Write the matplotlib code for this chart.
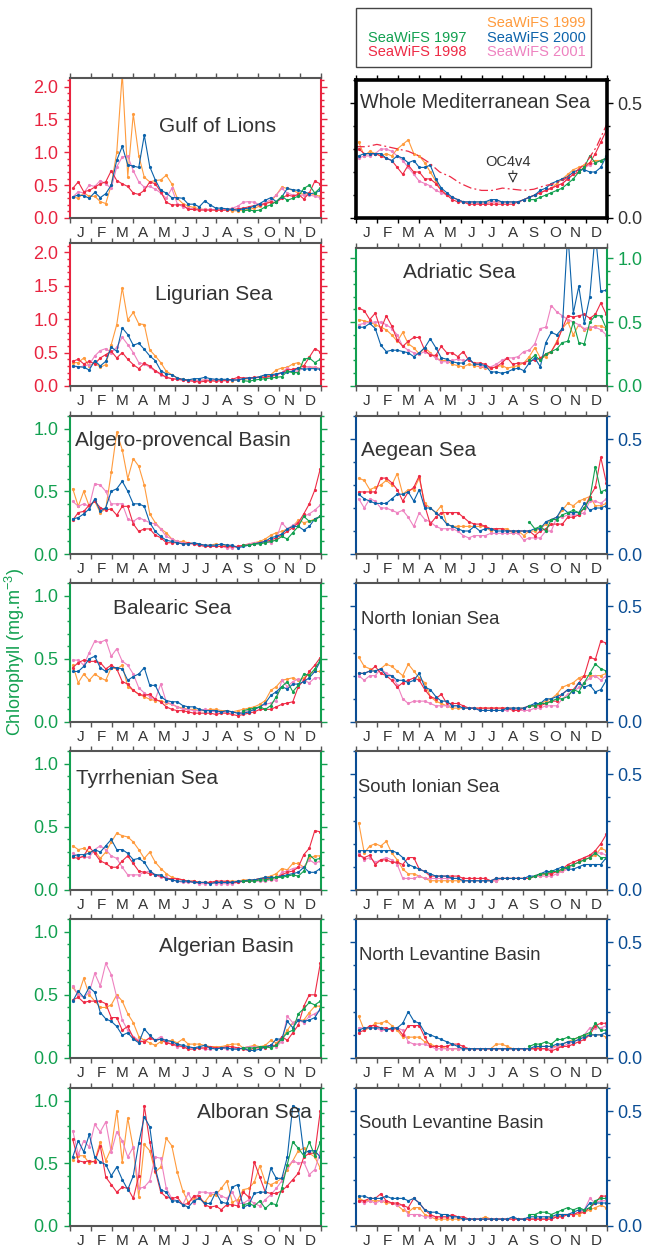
import numpy as np
import matplotlib
matplotlib.use('Agg')
import matplotlib.pyplot as plt
from matplotlib.ticker import MultipleLocator, FormatStrFormatter
from matplotlib.patches import Rectangle

plt.rcParams['font.family'] = ['Liberation Sans', 'DejaVu Sans']

months = ['J', 'F', 'M', 'A', 'M', 'J', 'J', 'A', 'S', 'O', 'N', 'D']
years = ['1997', '1998', '1999', '2000', '2001']

# ---------------- 8-day composites, SeaWiFS (1997 starts in September)

# Gulf of Lions
gol_98 = [0.45, 0.55, 0.40, 0.42, 0.47, 0.52, 0.55, 0.72, 0.57, 0.52,
          0.48, 0.38, 0.36, 0.42, 0.55, 0.52, 0.40, 0.24, 0.20, 0.20,
          0.20, 0.13, 0.13, 0.12, 0.12, 0.12, 0.12, 0.12, 0.12, 0.13,
          0.14, 0.15, 0.17, 0.19, 0.20, 0.22, 0.24, 0.24, 0.30, 0.35,
          0.33, 0.36, 0.29, 0.38, 0.56, 0.52]
gol_99 = [0.32, 0.30, 0.38, 0.33, 0.33, 0.25, 0.22, 0.50, 1.00, 2.20,
          0.63, 1.58, 0.95, 0.62, 0.55, 0.57, 0.58, 0.65, 0.52, 0.30,
          0.22, 0.18, 0.16, 0.14, 0.13, 0.13, 0.12, 0.12, 0.12, 0.11,
          0.11, 0.12, 0.13, 0.15, 0.18, 0.22, 0.25, 0.35, 0.47, 0.45,
          0.42, 0.38, 0.36, 0.38, 0.35, 0.33]
gol_00 = [0.32, 0.35, 0.34, 0.30, 0.39, 0.31, 0.37, 0.50, 0.88, 1.09,
          0.81, 0.79, 0.77, 1.26, 0.78, 0.58, 0.42, 0.38, 0.31, 0.31,
          0.30, 0.21, 0.21, 0.17, 0.26, 0.20, 0.15, 0.15, 0.14, 0.13,
          0.12, 0.14, 0.15, 0.18, 0.22, 0.27, 0.31, 0.25, 0.32, 0.45,
          0.43, 0.42, 0.40, 0.37, 0.38, 0.42]
gol_01 = [0.32, 0.40, 0.38, 0.50, 0.48, 0.57, 0.52, 0.45, 0.78, 0.93,
          0.94, 0.72, 0.55, 0.47, 0.48, 0.44, 0.38, 0.30, 0.45, 0.22,
          0.17, 0.15, 0.14, 0.13, 0.13, 0.13, 0.13, 0.12, 0.13, 0.15,
          0.18, 0.24, 0.25, 0.24, 0.20, 0.23, 0.28, 0.35, 0.45, 0.38,
          0.35, 0.34, 0.35, 0.35, 0.33, 0.31]
gol_97 = [0.11, 0.12, 0.11, 0.12, 0.17, 0.20, 0.25, 0.33, 0.27, 0.30,
          0.33, 0.45, 0.50, 0.38, 0.46]

# Ligurian Sea
lig_98 = [0.37, 0.40, 0.33, 0.37, 0.33, 0.42, 0.47, 0.52, 0.42, 0.50,
          0.40, 0.32, 0.26, 0.34, 0.30, 0.23, 0.18, 0.13, 0.11, 0.10,
          0.09, 0.08, 0.07, 0.06, 0.07, 0.08, 0.07, 0.08, 0.08, 0.10,
          0.13, 0.12, 0.12, 0.13, 0.13, 0.13, 0.15, 0.17, 0.20, 0.24,
          0.25, 0.27, 0.30, 0.43, 0.56, 0.51]
lig_99 = [0.35, 0.35, 0.42, 0.30, 0.35, 0.28, 0.32, 0.62, 0.92, 1.47,
          0.99, 1.10, 0.93, 0.92, 0.54, 0.45, 0.35, 0.22, 0.17, 0.12,
          0.10, 0.09, 0.09, 0.08, 0.09, 0.08, 0.09, 0.09, 0.09, 0.08,
          0.09, 0.10, 0.11, 0.12, 0.14, 0.15, 0.17, 0.24, 0.27, 0.28,
          0.33, 0.35, 0.30, 0.28, 0.28, 0.26]
lig_00 = [0.30, 0.29, 0.28, 0.24, 0.38, 0.30, 0.37, 0.58, 0.52, 0.87,
          0.77, 0.61, 0.64, 0.55, 0.45, 0.38, 0.23, 0.18, 0.17, 0.12,
          0.10, 0.09, 0.11, 0.11, 0.13, 0.11, 0.10, 0.10, 0.10, 0.09,
          0.09, 0.11, 0.12, 0.12, 0.14, 0.17, 0.17, 0.18, 0.20, 0.21,
          0.22, 0.27, 0.25, 0.26, 0.26, 0.25]
lig_01 = [0.30, 0.28, 0.30, 0.32, 0.45, 0.53, 0.56, 0.50, 0.58, 0.73,
          0.62, 0.50, 0.35, 0.33, 0.28, 0.22, 0.17, 0.13, 0.11, 0.10,
          0.09, 0.08, 0.08, 0.08, 0.09, 0.09, 0.09, 0.08, 0.08, 0.09,
          0.10, 0.11, 0.12, 0.12, 0.13, 0.13, 0.14, 0.16, 0.20, 0.27,
          0.23, 0.22, 0.28, 0.29, 0.28, 0.26]
lig_97 = [0.08, 0.07, 0.09, 0.10, 0.11, 0.12, 0.13, 0.14, 0.22, 0.20,
          0.20, 0.40, 0.42, 0.35, 0.40]

# Algero-provencal Basin
alp_98 = [0.27, 0.33, 0.34, 0.39, 0.42, 0.37, 0.35, 0.36, 0.31, 0.38,
          0.38, 0.24, 0.18, 0.20, 0.20, 0.15, 0.13, 0.09, 0.09, 0.09,
          0.08, 0.09, 0.08, 0.07, 0.06, 0.06, 0.06, 0.06, 0.06, 0.06,
          0.06, 0.07, 0.07, 0.08, 0.09, 0.10, 0.11, 0.13, 0.15, 0.18,
          0.21, 0.25, 0.32, 0.40, 0.51, 0.68]
alp_99 = [0.52, 0.38, 0.50, 0.38, 0.42, 0.33, 0.36, 0.65, 0.97, 0.83,
          0.60, 0.76, 0.70, 0.55, 0.32, 0.25, 0.20, 0.17, 0.12, 0.10,
          0.10, 0.09, 0.08, 0.08, 0.07, 0.07, 0.08, 0.07, 0.07, 0.06,
          0.06, 0.07, 0.08, 0.09, 0.10, 0.12, 0.15, 0.17, 0.18, 0.20,
          0.22, 0.27, 0.25, 0.26, 0.28, 0.30]
alp_00 = [0.28, 0.29, 0.32, 0.36, 0.44, 0.34, 0.37, 0.50, 0.52, 0.58,
          0.50, 0.40, 0.40, 0.38, 0.25, 0.18, 0.14, 0.11, 0.10, 0.09,
          0.08, 0.08, 0.09, 0.08, 0.07, 0.07, 0.07, 0.08, 0.07, 0.07,
          0.05, 0.06, 0.07, 0.08, 0.09, 0.10, 0.13, 0.14, 0.16, 0.20,
          0.22, 0.22, 0.19, 0.22, 0.28, 0.30]
alp_01 = [0.42, 0.38, 0.40, 0.38, 0.56, 0.55, 0.50, 0.40, 0.40, 0.40,
          0.28, 0.26, 0.29, 0.27, 0.25, 0.24, 0.20, 0.14, 0.12, 0.10,
          0.09, 0.08, 0.08, 0.07, 0.07, 0.06, 0.06, 0.06, 0.05, 0.05,
          0.06, 0.07, 0.08, 0.09, 0.09, 0.10, 0.09, 0.12, 0.25, 0.20,
          0.23, 0.25, 0.30, 0.32, 0.35, 0.39]
alp_97 = [0.07, 0.07, 0.08, 0.08, 0.09, 0.10, 0.11, 0.14, 0.12, 0.17,
          0.22, 0.30, 0.26, 0.27, 0.30]

# Balearic Sea
bal_98 = [0.43, 0.47, 0.49, 0.48, 0.48, 0.47, 0.42, 0.45, 0.42, 0.32,
          0.30, 0.25, 0.22, 0.21, 0.22, 0.18, 0.16, 0.12, 0.10, 0.09,
          0.09, 0.08, 0.07, 0.07, 0.07, 0.07, 0.06, 0.07, 0.07, 0.06,
          0.05, 0.06, 0.07, 0.08, 0.10, 0.10, 0.10, 0.12, 0.14, 0.15,
          0.16, 0.28, 0.33, 0.40, 0.45, 0.51]
bal_99 = [0.45, 0.31, 0.38, 0.33, 0.38, 0.35, 0.33, 0.43, 0.42, 0.45,
          0.28, 0.25, 0.22, 0.20, 0.18, 0.17, 0.17, 0.15, 0.14, 0.12,
          0.11, 0.10, 0.10, 0.09, 0.09, 0.10, 0.10, 0.09, 0.09, 0.08,
          0.09, 0.10, 0.11, 0.12, 0.14, 0.17, 0.25, 0.28, 0.33, 0.34,
          0.35, 0.33, 0.35, 0.38, 0.40, 0.40]
bal_00 = [0.40, 0.40, 0.44, 0.50, 0.52, 0.43, 0.40, 0.43, 0.43, 0.42,
          0.33, 0.36, 0.38, 0.43, 0.29, 0.29, 0.20, 0.17, 0.16, 0.16,
          0.13, 0.12, 0.12, 0.10, 0.09, 0.09, 0.09, 0.08, 0.09, 0.08,
          0.07, 0.07, 0.08, 0.10, 0.12, 0.15, 0.21, 0.24, 0.28, 0.26,
          0.30, 0.30, 0.32, 0.35, 0.40, 0.48]
bal_01 = [0.49, 0.49, 0.45, 0.55, 0.64, 0.63, 0.65, 0.52, 0.58, 0.48,
          0.45, 0.38, 0.27, 0.23, 0.20, 0.18, 0.30, 0.16, 0.14, 0.12,
          0.10, 0.10, 0.09, 0.09, 0.10, 0.09, 0.08, 0.08, 0.08, 0.08,
          0.07, 0.08, 0.09, 0.10, 0.12, 0.14, 0.15, 0.17, 0.33, 0.28,
          0.32, 0.34, 0.33, 0.31, 0.35, 0.35]
bal_97 = [0.09, 0.10, 0.11, 0.12, 0.10, 0.13, 0.20, 0.28, 0.32, 0.24,
          0.29, 0.38, 0.37, 0.42, 0.49]

# Tyrrhenian Sea
tyr_98 = [0.26, 0.25, 0.27, 0.34, 0.29, 0.23, 0.21, 0.18, 0.18, 0.23,
          0.27, 0.21, 0.15, 0.14, 0.13, 0.12, 0.11, 0.09, 0.09, 0.09,
          0.08, 0.07, 0.07, 0.06, 0.06, 0.06, 0.07, 0.07, 0.07, 0.06,
          0.06, 0.07, 0.07, 0.08, 0.09, 0.09, 0.09, 0.10, 0.12, 0.14,
          0.15, 0.18, 0.28, 0.33, 0.47, 0.46]
tyr_99 = [0.35, 0.32, 0.33, 0.30, 0.31, 0.25, 0.30, 0.38, 0.45, 0.43,
          0.42, 0.38, 0.32, 0.25, 0.30, 0.22, 0.17, 0.13, 0.10, 0.09,
          0.08, 0.07, 0.07, 0.06, 0.06, 0.06, 0.06, 0.06, 0.07, 0.07,
          0.07, 0.08, 0.08, 0.08, 0.09, 0.10, 0.11, 0.13, 0.17, 0.16,
          0.21, 0.21, 0.18, 0.25, 0.27, 0.27]
tyr_00 = [0.27, 0.28, 0.28, 0.29, 0.32, 0.30, 0.35, 0.40, 0.32, 0.32,
          0.29, 0.24, 0.25, 0.22, 0.15, 0.12, 0.12, 0.09, 0.08, 0.07,
          0.07, 0.07, 0.06, 0.06, 0.06, 0.05, 0.06, 0.06, 0.06, 0.06,
          0.07, 0.07, 0.08, 0.08, 0.09, 0.10, 0.10, 0.10, 0.11, 0.12,
          0.13, 0.14, 0.18, 0.14, 0.14, 0.17]
tyr_01 = [0.29, 0.26, 0.26, 0.26, 0.32, 0.35, 0.32, 0.27, 0.25, 0.18,
          0.12, 0.12, 0.12, 0.14, 0.15, 0.12, 0.10, 0.10, 0.08, 0.07,
          0.06, 0.06, 0.06, 0.05, 0.05, 0.06, 0.05, 0.05, 0.05, 0.05,
          0.06, 0.07, 0.07, 0.07, 0.07, 0.07, 0.08, 0.08, 0.14, 0.15,
          0.17, 0.18, 0.18, 0.24, 0.21, 0.23]
tyr_97 = [0.07, 0.07, 0.07, 0.08, 0.08, 0.09, 0.10, 0.10, 0.11, 0.12,
          0.11, 0.15, 0.28, 0.24, 0.25]

# Algerian Basin
alg_98 = [0.46, 0.48, 0.44, 0.45, 0.45, 0.45, 0.43, 0.32, 0.32, 0.22,
          0.25, 0.16, 0.13, 0.13, 0.16, 0.14, 0.15, 0.12, 0.11, 0.10,
          0.09, 0.07, 0.07, 0.08, 0.08, 0.09, 0.08, 0.08, 0.09, 0.09,
          0.08, 0.07, 0.06, 0.08, 0.08, 0.08, 0.10, 0.10, 0.17, 0.14,
          0.20, 0.26, 0.41, 0.50, 0.50, 0.75]
alg_99 = [0.56, 0.50, 0.63, 0.50, 0.45, 0.40, 0.40, 0.42, 0.50, 0.45,
          0.35, 0.28, 0.17, 0.14, 0.12, 0.10, 0.13, 0.13, 0.14, 0.12,
          0.15, 0.11, 0.11, 0.11, 0.10, 0.09, 0.09, 0.09, 0.10, 0.11,
          0.11, 0.08, 0.09, 0.10, 0.09, 0.10, 0.14, 0.12, 0.15, 0.22,
          0.28, 0.30, 0.30, 0.36, 0.41, 0.41]
alg_00 = [0.45, 0.53, 0.48, 0.56, 0.52, 0.36, 0.31, 0.29, 0.25, 0.18,
          0.20, 0.15, 0.12, 0.23, 0.18, 0.14, 0.15, 0.14, 0.13, 0.11,
          0.10, 0.09, 0.08, 0.09, 0.10, 0.08, 0.07, 0.08, 0.08, 0.07,
          0.07, 0.08, 0.06, 0.06, 0.07, 0.09, 0.10, 0.15, 0.15, 0.29,
          0.24, 0.30, 0.29, 0.30, 0.32, 0.39]
alg_01 = [0.57, 0.50, 0.48, 0.52, 0.67, 0.57, 0.75, 0.66, 0.48, 0.30,
          0.22, 0.17, 0.14, 0.13, 0.16, 0.14, 0.17, 0.13, 0.11, 0.09,
          0.09, 0.08, 0.08, 0.08, 0.07, 0.07, 0.08, 0.08, 0.07, 0.08,
          0.07, 0.08, 0.09, 0.09, 0.08, 0.09, 0.10, 0.09, 0.13, 0.33,
          0.28, 0.30, 0.28, 0.33, 0.35, 0.38]
alg_97 = [0.08, 0.08, 0.08, 0.09, 0.09, 0.08, 0.10, 0.15, 0.20, 0.22,
          0.35, 0.39, 0.44, 0.42, 0.45]

# Alboran Sea
alb_98 = [0.69, 0.52, 0.51, 0.52, 0.51, 0.64, 0.39, 0.33, 0.27, 0.31,
          0.30, 0.22, 0.40, 0.96, 0.67, 0.44, 0.27, 0.23, 0.22, 0.23,
          0.17, 0.18, 0.24, 0.24, 0.17, 0.15, 0.16, 0.13, 0.17, 0.17,
          0.16, 0.27, 0.23, 0.51, 0.39, 0.27, 0.26, 0.26, 0.28, 0.32,
          0.37, 0.42, 0.55, 0.58, 0.58, 0.92]
alb_99 = [0.53, 0.56, 0.56, 0.50, 0.52, 0.67, 0.52, 0.62, 0.92, 0.51,
          0.86, 0.62, 0.23, 0.65, 0.60, 0.43, 0.47, 0.70, 0.64, 0.43,
          0.28, 0.19, 0.22, 0.22, 0.19, 0.25, 0.25, 0.30, 0.36, 0.19,
          0.21, 0.29, 0.30, 0.35, 0.48, 0.35, 0.33, 0.35, 0.38, 0.45,
          0.52, 0.60, 0.62, 0.58, 0.55, 0.46]
alb_00 = [0.55, 0.68, 0.59, 0.73, 0.55, 0.51, 0.49, 0.40, 0.47, 0.37,
          0.29, 0.40, 0.66, 0.87, 0.79, 0.46, 0.29, 0.27, 0.20, 0.20,
          0.17, 0.15, 0.20, 0.22, 0.18, 0.18, 0.27, 0.19, 0.18, 0.31,
          0.33, 0.15, 0.17, 0.26, 0.27, 0.27, 0.46, 0.38, 0.38, 0.55,
          0.96, 0.93, 0.58, 0.60, 0.60, 0.55]
alb_01 = [0.76, 0.57, 0.68, 0.63, 0.81, 0.75, 0.83, 0.59, 0.75, 0.68,
          0.55, 0.63, 0.30, 0.31, 0.36, 0.55, 0.54, 0.30, 0.22, 0.20,
          0.17, 0.26, 0.18, 0.27, 0.27, 0.26, 0.27, 0.24, 0.22, 0.27,
          0.18, 0.18, 0.21, 0.18, 0.16, 0.21, 0.25, 0.30, 0.36, 0.47,
          0.52, 0.50, 0.51, 0.41, 0.45, 0.59]
alb_97 = [0.17, 0.18, 0.16, 0.20, 0.14, 0.18, 0.17, 0.30, 0.49, 0.67,
          0.62, 0.56, 0.67, 0.56, 0.67]

# Whole Mediterranean Sea
med_98 = [0.30, 0.28, 0.28, 0.28, 0.27, 0.26, 0.25, 0.22, 0.19, 0.23,
          0.20, 0.20, 0.17, 0.17, 0.15, 0.12, 0.10, 0.08, 0.07, 0.07,
          0.06, 0.06, 0.06, 0.06, 0.06, 0.06, 0.06, 0.06, 0.06, 0.07,
          0.08, 0.09, 0.10, 0.11, 0.12, 0.13, 0.14, 0.15, 0.17, 0.19,
          0.20, 0.22, 0.24, 0.28, 0.33, 0.38]
med_99 = [0.33, 0.27, 0.29, 0.28, 0.27, 0.28, 0.27, 0.30, 0.32, 0.34,
          0.28, 0.27, 0.24, 0.20, 0.16, 0.12, 0.10, 0.09, 0.08, 0.07,
          0.07, 0.07, 0.07, 0.07, 0.07, 0.07, 0.07, 0.07, 0.07, 0.07,
          0.08, 0.09, 0.10, 0.11, 0.12, 0.13, 0.15, 0.17, 0.19, 0.21,
          0.22, 0.23, 0.24, 0.25, 0.25, 0.26]
med_00 = [0.27, 0.28, 0.28, 0.28, 0.28, 0.26, 0.25, 0.27, 0.26, 0.24,
          0.25, 0.22, 0.22, 0.23, 0.17, 0.13, 0.11, 0.09, 0.08, 0.07,
          0.07, 0.07, 0.07, 0.07, 0.08, 0.08, 0.07, 0.07, 0.07, 0.07,
          0.08, 0.09, 0.10, 0.12, 0.13, 0.15, 0.16, 0.17, 0.18, 0.20,
          0.21, 0.21, 0.20, 0.20, 0.22, 0.27]
med_01 = [0.26, 0.27, 0.27, 0.28, 0.30, 0.30, 0.29, 0.27, 0.25, 0.22,
          0.19, 0.16, 0.15, 0.14, 0.12, 0.11, 0.10, 0.09, 0.08, 0.07,
          0.07, 0.07, 0.06, 0.06, 0.07, 0.07, 0.07, 0.07, 0.07, 0.07,
          0.08, 0.09, 0.10, 0.11, 0.12, 0.13, 0.14, 0.15, 0.17, 0.19,
          0.20, 0.22, 0.23, 0.24, 0.25, 0.26]
med_97 = [0.08, 0.08, 0.09, 0.10, 0.11, 0.12, 0.13, 0.15, 0.17, 0.20,
          0.22, 0.27, 0.24, 0.25, 0.26]
# OC4v4 climatology, half-month steps
med_oc4 = [0.31, 0.31, 0.32, 0.31, 0.30, 0.29, 0.27, 0.24, 0.20, 0.18,
           0.15, 0.13, 0.12, 0.12, 0.13, 0.125, 0.12, 0.125, 0.14, 0.15,
           0.17, 0.20, 0.24, 0.31, 0.41]

# Adriatic Sea
adr_98 = [0.61, 0.59, 0.52, 0.57, 0.44, 0.55, 0.47, 0.36, 0.31, 0.35,
          0.38, 0.38, 0.28, 0.24, 0.24, 0.31, 0.26, 0.26, 0.23, 0.27,
          0.20, 0.18, 0.18, 0.17, 0.14, 0.15, 0.18, 0.22, 0.17, 0.18,
          0.18, 0.20, 0.20, 0.22, 0.25, 0.27, 0.34, 0.45, 0.55, 0.54,
          0.55, 0.56, 0.53, 0.56, 0.65, 0.56]
adr_99 = [0.52, 0.51, 0.50, 0.48, 0.46, 0.44, 0.40, 0.35, 0.42, 0.33,
          0.30, 0.25, 0.30, 0.26, 0.22, 0.20, 0.20, 0.17, 0.16, 0.15,
          0.17, 0.16, 0.15, 0.14, 0.14, 0.15, 0.16, 0.14, 0.15, 0.16,
          0.18, 0.23, 0.30, 0.22, 0.23, 0.27, 0.35, 0.45, 0.50, 0.40,
          0.48, 0.44, 0.45, 0.47, 0.47, 0.45]
adr_00 = [0.46, 0.46, 0.49, 0.45, 0.32, 0.27, 0.28, 0.28, 0.27, 0.26,
          0.23, 0.26, 0.30, 0.37, 0.30, 0.22, 0.21, 0.19, 0.18, 0.18,
          0.22, 0.17, 0.17, 0.16, 0.11, 0.11, 0.10, 0.11, 0.13, 0.14,
          0.12, 0.18, 0.22, 0.15, 0.34, 0.42, 0.40, 0.45, 1.20, 0.57,
          0.78, 0.49, 0.70, 1.20, 0.74, 0.75]
adr_01 = [0.48, 0.49, 0.50, 0.50, 0.50, 0.48, 0.45, 0.40, 0.31, 0.28,
          0.26, 0.25, 0.27, 0.25, 0.22, 0.19, 0.19, 0.20, 0.21, 0.20,
          0.20, 0.18, 0.16, 0.15, 0.15, 0.17, 0.20, 0.22, 0.22, 0.23,
          0.27, 0.28, 0.33, 0.45, 0.46, 0.63, 0.58, 0.55, 0.52, 0.50,
          0.48, 0.45, 0.46, 0.46, 0.44, 0.40]
adr_97 = [0.20, 0.24, 0.20, 0.25, 0.27, 0.29, 0.34, 0.35, 0.50, 0.34,
          0.33, 0.50, 0.55, 0.55, 0.45]

# Aegean Sea
aeg_98 = [0.27, 0.27, 0.27, 0.27, 0.33, 0.33, 0.31, 0.28, 0.23, 0.27,
          0.29, 0.34, 0.21, 0.13, 0.16, 0.18, 0.18, 0.18, 0.18, 0.16,
          0.14, 0.13, 0.13, 0.12, 0.11, 0.11, 0.11, 0.10, 0.10, 0.10,
          0.10, 0.10, 0.08, 0.10, 0.11, 0.13, 0.13, 0.13, 0.16, 0.16,
          0.17, 0.20, 0.25, 0.29, 0.42, 0.31]
aeg_99 = [0.33, 0.32, 0.28, 0.29, 0.30, 0.32, 0.30, 0.35, 0.26, 0.28,
          0.28, 0.33, 0.22, 0.20, 0.18, 0.21, 0.13, 0.12, 0.12, 0.12,
          0.12, 0.12, 0.12, 0.12, 0.10, 0.11, 0.11, 0.11, 0.09, 0.10,
          0.08, 0.10, 0.10, 0.11, 0.13, 0.15, 0.16, 0.19, 0.22, 0.21,
          0.23, 0.24, 0.25, 0.21, 0.21, 0.22]
aeg_00 = [0.26, 0.24, 0.23, 0.22, 0.22, 0.22, 0.24, 0.26, 0.26, 0.27,
          0.23, 0.28, 0.20, 0.20, 0.18, 0.16, 0.13, 0.12, 0.11, 0.10,
          0.10, 0.12, 0.10, 0.11, 0.11, 0.10, 0.10, 0.10, 0.10, 0.10,
          0.10, 0.10, 0.11, 0.11, 0.14, 0.15, 0.16, 0.20, 0.18, 0.18,
          0.18, 0.22, 0.19, 0.20, 0.20, 0.21]
aeg_01 = [0.24, 0.20, 0.24, 0.23, 0.20, 0.20, 0.19, 0.18, 0.19, 0.16,
          0.12, 0.18, 0.15, 0.14, 0.12, 0.11, 0.11, 0.11, 0.10, 0.08,
          0.07, 0.08, 0.08, 0.08, 0.09, 0.09, 0.09, 0.09, 0.09, 0.09,
          0.06, 0.07, 0.07, 0.07, 0.10, 0.10, 0.16, 0.16, 0.17, 0.17,
          0.17, 0.18, 0.23, 0.23, 0.22, 0.24]
aeg_97 = [0.14, 0.11, 0.12, 0.10, 0.15, 0.15, 0.17, 0.18, 0.19, 0.18,
          0.20, 0.24, 0.38, 0.27, 0.28]

# North Ionian Sea
nio_98 = [0.21, 0.21, 0.22, 0.24, 0.21, 0.20, 0.18, 0.15, 0.17, 0.18,
          0.19, 0.18, 0.14, 0.11, 0.10, 0.12, 0.08, 0.08, 0.08, 0.07,
          0.06, 0.06, 0.06, 0.06, 0.06, 0.06, 0.06, 0.06, 0.05, 0.05,
          0.06, 0.07, 0.07, 0.07, 0.08, 0.09, 0.09, 0.12, 0.14, 0.14,
          0.17, 0.20, 0.28, 0.27, 0.35, 0.34]
nio_99 = [0.28, 0.24, 0.23, 0.22, 0.23, 0.25, 0.24, 0.22, 0.20, 0.25,
          0.22, 0.19, 0.17, 0.11, 0.09, 0.08, 0.07, 0.06, 0.06, 0.06,
          0.06, 0.06, 0.06, 0.06, 0.06, 0.06, 0.06, 0.06, 0.06, 0.06,
          0.06, 0.07, 0.07, 0.08, 0.09, 0.10, 0.12, 0.15, 0.16, 0.17,
          0.19, 0.20, 0.20, 0.20, 0.20, 0.21]
nio_00 = [0.21, 0.21, 0.22, 0.22, 0.23, 0.20, 0.20, 0.18, 0.18, 0.17,
          0.18, 0.21, 0.15, 0.14, 0.11, 0.09, 0.09, 0.07, 0.07, 0.06,
          0.06, 0.06, 0.05, 0.05, 0.05, 0.05, 0.05, 0.06, 0.06, 0.06,
          0.06, 0.07, 0.08, 0.08, 0.10, 0.10, 0.11, 0.12, 0.14, 0.13,
          0.17, 0.15, 0.16, 0.13, 0.14, 0.18]
nio_01 = [0.20, 0.18, 0.20, 0.20, 0.23, 0.21, 0.20, 0.16, 0.10, 0.08,
          0.09, 0.09, 0.09, 0.08, 0.07, 0.07, 0.07, 0.07, 0.07, 0.06,
          0.06, 0.06, 0.05, 0.05, 0.05, 0.05, 0.05, 0.05, 0.06, 0.05,
          0.05, 0.05, 0.06, 0.06, 0.07, 0.07, 0.07, 0.10, 0.12, 0.13,
          0.15, 0.17, 0.19, 0.20, 0.18, 0.20]
nio_97 = [0.07, 0.07, 0.08, 0.08, 0.09, 0.10, 0.10, 0.11, 0.14, 0.13,
          0.17, 0.21, 0.25, 0.23, 0.22]

# South Ionian Sea
sio_98 = [0.15, 0.14, 0.15, 0.11, 0.13, 0.13, 0.12, 0.12, 0.11, 0.14,
          0.14, 0.09, 0.08, 0.06, 0.06, 0.06, 0.06, 0.06, 0.06, 0.05,
          0.05, 0.05, 0.05, 0.05, 0.04, 0.05, 0.05, 0.05, 0.05, 0.05,
          0.05, 0.05, 0.06, 0.07, 0.07, 0.07, 0.08, 0.09, 0.11, 0.12,
          0.13, 0.14, 0.15, 0.17, 0.20, 0.24]
sio_99 = [0.29, 0.16, 0.19, 0.20, 0.19, 0.21, 0.16, 0.13, 0.09, 0.07,
          0.07, 0.06, 0.05, 0.04, 0.04, 0.04, 0.04, 0.04, 0.04, 0.04,
          0.04, 0.04, 0.04, 0.04, 0.04, 0.04, 0.05, 0.05, 0.05, 0.05,
          0.05, 0.05, 0.06, 0.06, 0.07, 0.07, 0.08, 0.08, 0.10, 0.11,
          0.12, 0.13, 0.14, 0.15, 0.18, 0.17]
sio_00 = [0.17, 0.17, 0.17, 0.17, 0.17, 0.17, 0.17, 0.16, 0.14, 0.11,
          0.10, 0.09, 0.08, 0.07, 0.06, 0.06, 0.06, 0.05, 0.05, 0.04,
          0.04, 0.04, 0.04, 0.04, 0.04, 0.05, 0.05, 0.05, 0.05, 0.05,
          0.05, 0.06, 0.06, 0.07, 0.08, 0.08, 0.09, 0.10, 0.09, 0.09,
          0.10, 0.11, 0.11, 0.11, 0.11, 0.14]
sio_01 = [0.16, 0.13, 0.14, 0.12, 0.13, 0.14, 0.13, 0.11, 0.05, 0.05,
          0.05, 0.06, 0.05, 0.05, 0.05, 0.05, 0.05, 0.05, 0.05, 0.04,
          0.04, 0.04, 0.04, 0.04, 0.04, 0.04, 0.05, 0.05, 0.05, 0.05,
          0.05, 0.05, 0.06, 0.06, 0.06, 0.06, 0.07, 0.08, 0.09, 0.11,
          0.12, 0.14, 0.15, 0.16, 0.16, 0.15]
sio_97 = [0.05, 0.06, 0.07, 0.07, 0.08, 0.08, 0.09, 0.10, 0.11, 0.12,
          0.13, 0.14, 0.16, 0.14, 0.14]

# North Levantine Basin
nlv_98 = [0.11, 0.12, 0.14, 0.14, 0.13, 0.13, 0.12, 0.13, 0.10, 0.14,
          0.14, 0.14, 0.09, 0.05, 0.05, 0.05, 0.05, 0.06, 0.06, 0.05,
          0.04, 0.04, 0.04, 0.04, 0.04, 0.04, 0.04, 0.04, 0.04, 0.04,
          0.04, 0.04, 0.04, 0.04, 0.04, 0.03, 0.04, 0.05, 0.05, 0.06,
          0.07, 0.08, 0.10, 0.14, 0.15, 0.15]
nlv_99 = [0.18, 0.12, 0.13, 0.15, 0.15, 0.16, 0.14, 0.12, 0.09, 0.09,
          0.09, 0.09, 0.07, 0.06, 0.05, 0.05, 0.04, 0.04, 0.04, 0.04,
          0.04, 0.04, 0.04, 0.04, 0.04, 0.06, 0.06, 0.05, 0.04, 0.04,
          0.04, 0.04, 0.04, 0.05, 0.05, 0.05, 0.05, 0.06, 0.07, 0.08,
          0.09, 0.10, 0.10, 0.10, 0.10, 0.09]
nlv_00 = [0.12, 0.13, 0.13, 0.13, 0.13, 0.12, 0.13, 0.13, 0.15, 0.20,
          0.16, 0.15, 0.11, 0.10, 0.09, 0.08, 0.07, 0.06, 0.05, 0.04,
          0.04, 0.04, 0.04, 0.04, 0.04, 0.04, 0.04, 0.04, 0.04, 0.04,
          0.04, 0.04, 0.05, 0.05, 0.05, 0.05, 0.06, 0.06, 0.07, 0.07,
          0.08, 0.09, 0.10, 0.10, 0.10, 0.11]
nlv_01 = [0.13, 0.13, 0.13, 0.13, 0.12, 0.12, 0.13, 0.13, 0.12, 0.07,
          0.06, 0.06, 0.06, 0.05, 0.04, 0.04, 0.04, 0.04, 0.04, 0.04,
          0.04, 0.04, 0.04, 0.04, 0.04, 0.04, 0.04, 0.04, 0.04, 0.04,
          0.04, 0.04, 0.04, 0.04, 0.04, 0.04, 0.05, 0.05, 0.06, 0.07,
          0.08, 0.10, 0.13, 0.13, 0.13, 0.14]
nlv_97 = [0.05, 0.06, 0.06, 0.07, 0.06, 0.08, 0.08, 0.09, 0.08, 0.09,
          0.10, 0.11, 0.15, 0.12, 0.12]

# South Levantine Basin
slv_98 = [0.11, 0.11, 0.12, 0.12, 0.14, 0.11, 0.10, 0.10, 0.09, 0.08,
          0.12, 0.10, 0.07, 0.05, 0.04, 0.04, 0.04, 0.05, 0.04, 0.04,
          0.03, 0.03, 0.03, 0.03, 0.03, 0.03, 0.03, 0.03, 0.03, 0.03,
          0.03, 0.03, 0.03, 0.03, 0.03, 0.03, 0.04, 0.04, 0.05, 0.05,
          0.06, 0.06, 0.08, 0.10, 0.13, 0.13]
slv_99 = [0.12, 0.11, 0.11, 0.11, 0.11, 0.10, 0.10, 0.09, 0.07, 0.06,
          0.08, 0.08, 0.05, 0.04, 0.03, 0.03, 0.03, 0.03, 0.03, 0.03,
          0.03, 0.03, 0.03, 0.04, 0.03, 0.03, 0.03, 0.03, 0.03, 0.03,
          0.03, 0.03, 0.03, 0.03, 0.03, 0.04, 0.04, 0.05, 0.05, 0.05,
          0.05, 0.06, 0.07, 0.08, 0.09, 0.08]
slv_00 = [0.13, 0.13, 0.12, 0.12, 0.12, 0.13, 0.12, 0.12, 0.12, 0.11,
          0.12, 0.10, 0.07, 0.06, 0.06, 0.05, 0.05, 0.04, 0.04, 0.03,
          0.03, 0.03, 0.03, 0.03, 0.03, 0.03, 0.03, 0.03, 0.04, 0.03,
          0.03, 0.04, 0.04, 0.04, 0.04, 0.04, 0.05, 0.05, 0.05, 0.06,
          0.07, 0.07, 0.10, 0.10, 0.10, 0.10]
slv_01 = [0.11, 0.10, 0.11, 0.10, 0.11, 0.11, 0.10, 0.09, 0.09, 0.05,
          0.05, 0.05, 0.04, 0.04, 0.04, 0.04, 0.04, 0.04, 0.04, 0.03,
          0.03, 0.03, 0.03, 0.03, 0.03, 0.03, 0.03, 0.03, 0.03, 0.03,
          0.03, 0.03, 0.03, 0.03, 0.03, 0.03, 0.04, 0.04, 0.05, 0.05,
          0.06, 0.07, 0.12, 0.10, 0.11, 0.11]
slv_97 = [0.05, 0.05, 0.06, 0.06, 0.05, 0.06, 0.07, 0.08, 0.07, 0.08,
          0.07, 0.08, 0.11, 0.12, 0.12]

# ------------------------------

c97 = '#12a050'
c98 = '#ee2a45'
c99 = '#ff9b3d'
c00 = '#0b62aa'
c01 = '#ee82c0'
year_cols = [c97, c98, c99, c00, c01]
red_ax = '#e8243f'
green_ax = '#12a050'
blue_ax = '#0a4d94'
grey = '#555555'
txt = '#333333'

W, H = 649, 1247
fig = plt.figure(figsize=(W / 100, H / 100), dpi=100)

# 8-day composite centres, in month units
days = (8 * np.arange(46) + 4) / 365 * 12


def px_axes(x0, y0, x1, y1):
    return fig.add_axes([x0 / W, 1 - y1 / H, (x1 - x0) / W, (y1 - y0) / H])


def draw(ax, s97, s98, s99, s00, s01):
    for vals, col in [(s99, c99), (s01, c01), (s98, c98), (s00, c00)]:
        ax.plot(days[:len(vals)], vals, '-o', color=col, lw=0.8, ms=2.3, mew=0)
    ax.plot(days[46 - len(s97):], s97, '-o', color=c97, lw=0.8, ms=2.3, mew=0)


def style(ax, ymax, col, side, frame_col=grey, lw=1.5):
    ax.set_xlim(0, 12)
    ax.set_ylim(0, ymax)
    ax.set_xticks(range(13))
    ax.set_xticklabels([])
    ax.set_xticks(np.arange(12) + 0.5, minor=True)
    ax.set_xticklabels(months, minor=True)
    ax.tick_params(axis='x', which='major', direction='out', length=3.5, width=1,
                   color=frame_col, top=True, bottom=True)
    ax.tick_params(axis='x', which='minor', length=0, pad=6, labelsize=11, labelcolor=txt)
    ax.yaxis.set_major_locator(MultipleLocator(0.5))
    ax.yaxis.set_minor_locator(MultipleLocator(0.1))
    ax.yaxis.set_major_formatter(FormatStrFormatter('%.1f'))
    ax.tick_params(axis='y', which='both', direction='out', left=True, right=True,
                   color=col, labelcolor=col, labelsize=13, width=1)
    ax.tick_params(axis='y', which='major', length=4.5)
    ax.tick_params(axis='y', which='minor', length=2.5)
    if side == 'left':
        ax.tick_params(axis='y', labelleft=True, labelright=False, pad=4)
    else:
        ax.tick_params(axis='y', labelleft=False, labelright=True, pad=3)
    for s in ['left', 'right']:
        ax.spines[s].set_color(col)
        ax.spines[s].set_linewidth(lw)
    for s in ['top', 'bottom']:
        ax.spines[s].set_color(frame_col)
        ax.spines[s].set_linewidth(lw)


left_panels = [
    ('Gulf of Lions', gol_97, gol_98, gol_99, gol_00, gol_01, 2.13, red_ax),
    ('Ligurian Sea', lig_97, lig_98, lig_99, lig_00, lig_01, 2.14, red_ax),
    ('Algero-provencal Basin', alp_97, alp_98, alp_99, alp_00, alp_01, 1.1, green_ax),
    ('Balearic Sea', bal_97, bal_98, bal_99, bal_00, bal_01, 1.1, green_ax),
    ('Tyrrhenian Sea', tyr_97, tyr_98, tyr_99, tyr_00, tyr_01, 1.1, green_ax),
    ('Algerian Basin', alg_97, alg_98, alg_99, alg_00, alg_01, 1.1, green_ax),
    ('Alboran Sea', alb_97, alb_98, alb_99, alb_00, alb_01, 1.1, green_ax),
]
right_panels = [
    ('Whole Mediterranean Sea', med_97, med_98, med_99, med_00, med_01, 0.6, 'black'),
    ('Adriatic Sea', adr_97, adr_98, adr_99, adr_00, adr_01, 1.08, green_ax),
    ('Aegean Sea', aeg_97, aeg_98, aeg_99, aeg_00, aeg_01, 0.6, blue_ax),
    ('North Ionian Sea', nio_97, nio_98, nio_99, nio_00, nio_01, 0.6, blue_ax),
    ('South Ionian Sea', sio_97, sio_98, sio_99, sio_00, sio_01, 0.6, blue_ax),
    ('North Levantine Basin', nlv_97, nlv_98, nlv_99, nlv_00, nlv_01, 0.6, blue_ax),
    ('South Levantine Basin', slv_97, slv_98, slv_99, slv_00, slv_01, 0.6, blue_ax),
]

# pixel layout
left_tops = [78, 243, 416, 583, 751, 919, 1088]
right_tops = [80, 248, 416, 583, 751, 919, 1088]
bottoms = [218, 386, 554, 722, 890, 1058, 1226]
left_title_xy = [(159, 126), (155, 295), (75, 441), (113, 609), (76, 778), (159, 946), (197, 1113)]
right_title_xy = [(360, 103), (403, 273), (361, 451), (361, 619), (358, 787), (359, 955), (359, 1123)]
right_title_fs = [14.2, 15, 15, 13.3, 13.3, 13.3, 13.3]

for k, p in enumerate(left_panels):
    ax = px_axes(70, left_tops[k], 321, bottoms[k])
    draw(ax, *p[1:6])
    style(ax, p[6], p[7], 'left')
    fig.text(left_title_xy[k][0] / W, 1 - left_title_xy[k][1] / H, p[0],
             fontsize=15, color=txt, ha='left', va='center')

for k, p in enumerate(right_panels):
    ax = px_axes(356, right_tops[k], 607, bottoms[k])
    draw(ax, *p[1:6])
    if k == 0:
        ax.plot(np.arange(len(med_oc4)) * 0.5, med_oc4, color=c98, lw=0.9,
                dashes=(7, 2.5, 1.5, 2.5))
        ax.annotate('', xy=(7.5, 0.14), xytext=(7.5, 0.218),
                    arrowprops=dict(arrowstyle='-|>,head_length=0.6,head_width=0.3',
                                    fc='white', ec=txt, lw=0.8))
        ax.text(7.29, 0.243, 'OC4v4', fontsize=10.5, color=txt, ha='center', va='center')
        style(ax, p[6], 'black', 'right', frame_col='black', lw=2.6)
        ax.tick_params(axis='y', labelcolor=txt)
    else:
        style(ax, p[6], p[7], 'right')
    fig.text(right_title_xy[k][0] / W, 1 - right_title_xy[k][1] / H, p[0],
             fontsize=right_title_fs[k], color=txt, ha='left', va='center')

# legend box
fig.patches.append(Rectangle((356 / W, 1 - 67 / H), 235 / W, 59 / H, fill=False,
                             ec='#444444', lw=1, transform=fig.transFigure, figure=fig))
legend_xy = [(368, 38), (368, 52), (487, 23), (487, 38), (487, 52)]
for yr, col, (lx, ly) in zip(years, year_cols, legend_xy):
    fig.text(lx / W, 1 - ly / H, 'SeaWiFS ' + yr, fontsize=10.5, color=col,
             ha='left', va='center')

fig.text(15 / W, 1 - 652 / H, 'Chlorophyll (mg.m$^{\\mathregular{-3}}$)', rotation=90,
         fontsize=13, color=green_ax, ha='center', va='center')

fig.savefig('out.png', dpi=100)
